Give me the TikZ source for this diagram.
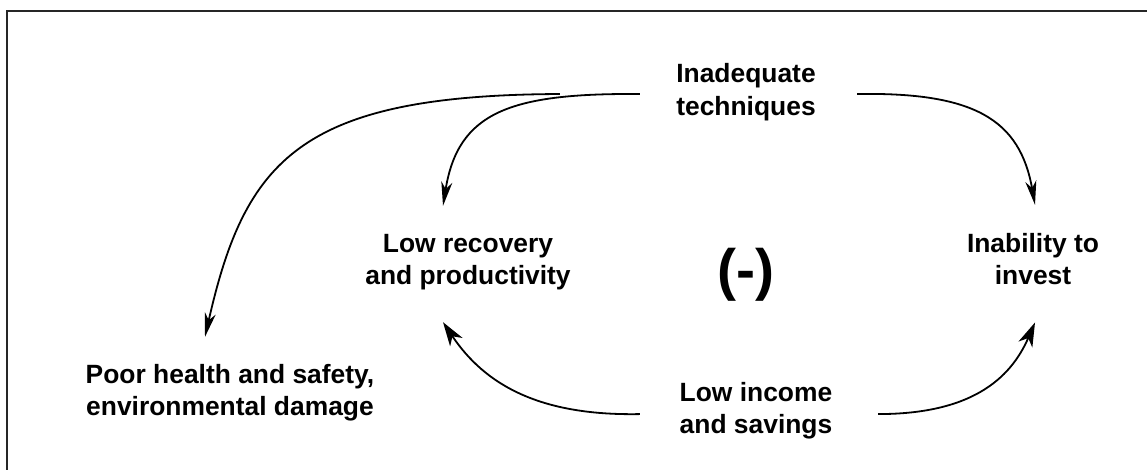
\documentclass[tikz,border=0pt]{standalone}
\usepackage{fontspec}
\setmainfont{Liberation Sans}
\usetikzlibrary{arrows.meta,calc}
\begin{document}
\begin{tikzpicture}[x=1pt,y=-1pt,
  lbl/.style={font=\fontsize{26.4}{32.7}\selectfont\bfseries, align=center, inner sep=0pt, anchor=base},
  conn/.style={line width=1.8pt, -{Stealth[length=24pt,width=11pt,inset=7pt]}},
  connb/.style={line width=1.8pt, -{Stealth[length=24pt,width=15pt,inset=7pt]}},
  frame/.style={line width=2pt, draw=black!85}]
\useasboundingbox (0,0) rectangle (1147,470);
\draw[frame] (7,475) -- (7,11) -- (1152,11);
\node[lbl] (inad) at (746,115.7) {Inadequate\\techniques};
\node[lbl] (lowrec) at (468,284.7) {Low recovery\\and productivity};
\node[lbl] (inab) at (1033,284.7) {Inability to\\invest};
\node[lbl] (poor) at (230,415.7) {Poor health and safety,\\environmental damage};
\node[lbl] (lowinc) at (756,433.7) {Low income\\and savings};
\node[font=\fontsize{57}{62}\selectfont\bfseries, inner sep=0pt] (minus) at (746,275) {(-)};
\draw[conn] ($(inad.west)+(-36.3,1.5)$) .. controls (510,93) and (458,112) .. ($(lowrec.north)+(-25,-27.8)$);
\draw[conn] ($(inad.west)+(-116.3,1.5)$) .. controls (300,95) and (245,160) .. ($(poor.north)+(-25,-26.8)$);
\draw[conn] ($(inad.east)+(41.3,1.5)$) .. controls (975,92) and (1020,120) .. ($(inab.north)+(2,-27.8)$);
\draw[connb] ($(lowinc.west)+(-39.7,3.5)$) .. controls (540,416) and (485,385) .. ($(lowrec.south)+(-25,31.8)$);
\draw[connb] ($(lowinc.east)+(45.7,3.5)$) .. controls (970,414) and (1010,380) .. ($(inab.south)+(2,37.3)$);
\end{tikzpicture}
\end{document}
